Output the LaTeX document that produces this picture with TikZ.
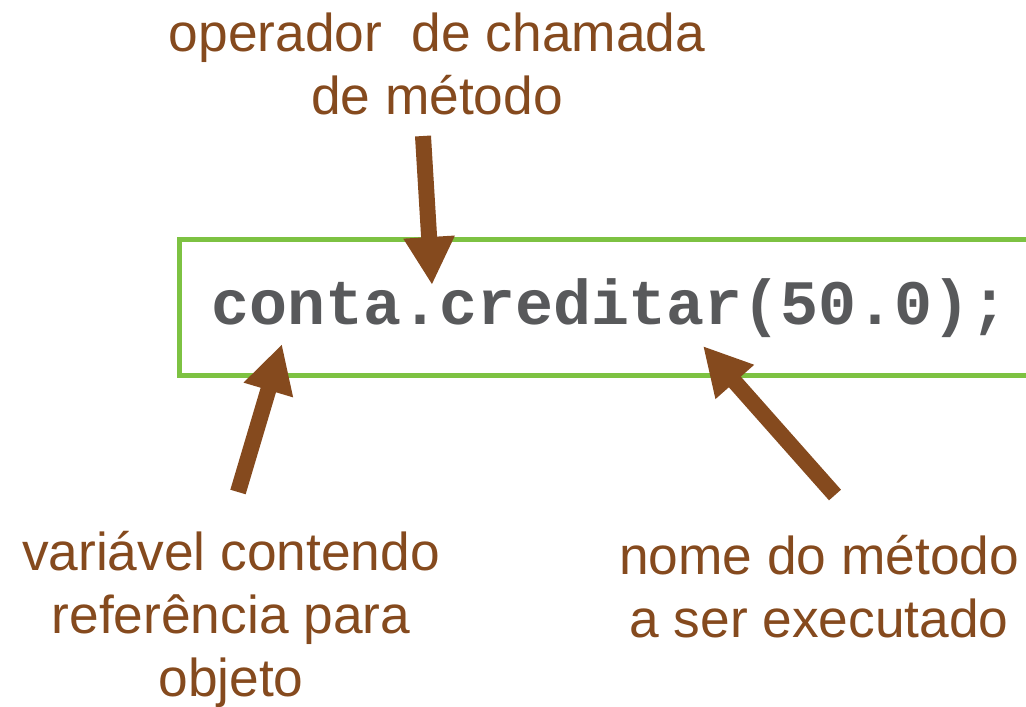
\documentclass[tikz,border=0pt]{standalone}
\usepackage{fontspec}
\setmainfont{Liberation Sans}
\newfontfamily\codefont{Liberation Mono}
\usepackage{tikz}
\definecolor{notebrown}{RGB}{133, 74, 30}
\definecolor{codegray}{RGB}{88, 89, 91}
\definecolor{boxgreen}{RGB}{125, 194, 66}
\usetikzlibrary{
  arrows.meta,
  positioning,
}
\tikzset{
  note/.style={text=notebrown,align=center,font=\fontsize{53.3}{63}\selectfont},
  pointer/.style={draw=notebrown,line width=16pt,-{Triangle[width=48pt,length=48pt]}},
}

\begin{document}
\begin{tikzpicture}[x=1pt,y=-1pt]
      \useasboundingbox (0,0) rectangle (1026,707);

      \node[draw=boxgreen,line width=5pt,rectangle,minimum width=880,minimum height=136,anchor=north west,inner sep=0]    (box)  at (177,237)      {};
      \node[anchor=base west,inner sep=0,text=codegray,font=\codefont\bfseries\fontsize{63.3}{63}\selectfont]    (code)  at (211,324)      {conta.creditar(50.0);};

      \node[note]    (oper)  at (437,64)      {operador\ \ de chamada\\de método};
      \node[note]    (var)   at (231,619)     {variável contendo\\referência para\\objeto};
      \node[note]    (nome)  at (819,587)     {nome do método\\a ser executado};

      % tips and tails of the arrows
      \coordinate (operTip)  at (432,285);
      \coordinate (operTail) at (423,136);
      \coordinate (varTip)   at (282,344);
      \coordinate (varTail)  at (238,492);
      \coordinate (nomeTip)  at (703,346);
      \coordinate (nomeTail) at (835,495);

      \draw[pointer] (operTail) -- (operTip);
      \draw[pointer] (varTail) -- (varTip);
      \draw[pointer] (nomeTail) -- (nomeTip);
    \end{tikzpicture}
\end{document}
